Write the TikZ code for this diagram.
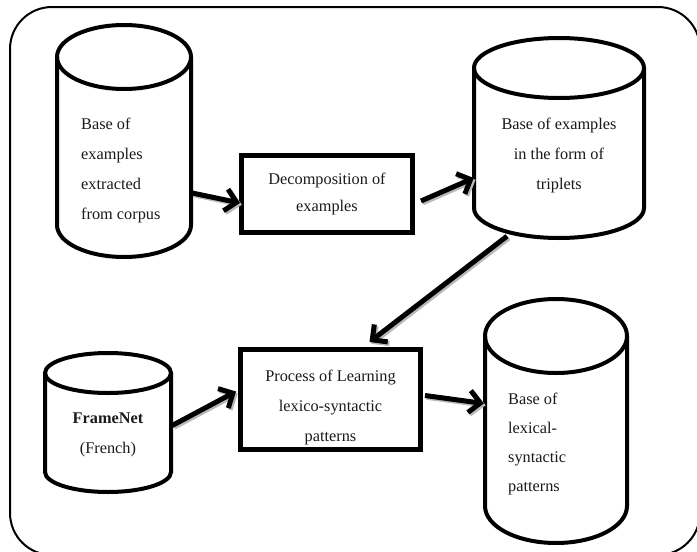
\documentclass[tikz,border=0pt]{standalone}
\usepackage{fontspec}
\setmainfont{Liberation Serif}
\usetikzlibrary{arrows.meta,calc}
\definecolor{ink}{HTML}{1A1A1A}
\newcommand\drawcylinder[5]{% cx, rx, ytop, ybottom, ry
  \draw[cylline] (#1-#2,#3) -- (#1-#2,#4) arc[start angle=180,end angle=0,x radius=#2,y radius=#5] -- (#1+#2,#3);
  \draw[cylline] (#1,#3) ellipse [x radius=#2, y radius=#5];
}
\begin{document}
\begin{tikzpicture}[x=1pt,y=-1pt,
  cylline/.style={line width=4pt, draw=black},
  procbox/.style={draw=black, line width=5pt, rectangle, inner sep=0pt},
  ghost/.style={draw=none, rectangle, inner sep=0pt},
  label/.style={text=ink, font=\fontsize{16.3}{30}\selectfont, inner sep=0pt},
  flow/.style={line width=5pt, draw=black, -{Straight Barb[length=11pt,width=22pt]},
    preaction={draw=gray!55, line width=5pt, transform canvas={shift={(1.8pt,-1.8pt)}}}},
  frame/.style={draw=black, line width=2pt, rounded corners=42pt}]
\useasboundingbox (0,0) rectangle (697,552);
\clip (0,0) rectangle (697,552);
\fill[white] (0,0) rectangle (697,552);
% outer frame
\draw[frame] (10,7) rectangle (700,555);

% cylinders
\drawcylinder{124}{67}{57}{225}{32}
\drawcylinder{559}{85}{68}{208}{30}
\drawcylinder{108}{63}{373}{472}{20}
\drawcylinder{556}{71}{336}{506}{37}

\node[ghost, minimum width=134pt, minimum height=232pt] (cyl1) at (124,141) {};
\node[ghost, minimum width=170pt, minimum height=200pt] (cyl2) at (559,138) {};
\node[ghost, minimum width=126pt, minimum height=139pt] (cyl3) at (108,422.5) {};
\node[ghost, minimum width=142pt, minimum height=245pt] (cyl4) at (556,420.5) {};

% cylinder texts
\node[label, anchor=west, align=left] (t1) at (81,170) {Base of\\examples\\extracted\\from corpus};
\node[label, align=center] (t2) at (559,155) {Base of examples\\in the form of\\triplets};
\node[label, align=center] (t3) at (108,435) {\textbf{FrameNet}\\(French)};
\node[label, anchor=west, align=left, font=\fontsize{16.3}{29.3}\selectfont] (t4) at (508,444) {Base of\\lexical-\\syntactic\\patterns};

% process boxes
\node[procbox, minimum width=171pt, minimum height=77pt] (box1) at (327,194) {};
\node[label, align=center, font=\fontsize{16.3}{27}\selectfont] (t5) at (box1) {Decomposition of\\examples};
\node[procbox, minimum width=180pt, minimum height=100pt] (box2) at (330.5,399.5) {};
\node[label, align=center] (t6) at ($(box2)+(0,8)$) {Process of Learning\\lexico-syntactic\\patterns};

% connectors
\draw[flow] ($(cyl1.east)+(1,52)$) -- ($(box1.west)+(1,9)$);
\draw[flow] ($(box1.east)+(6,7)$) -- ($(cyl2.west)+(0,40)$);
\draw[flow] ($(cyl2.south)+(-52,-2)$) -- ($(box2.north)+(39,-5)$);
\draw[flow] ($(cyl3.east)+(1,3)$) -- ($(box2.west)+(-2,-8)$);
\draw[flow] ($(box2.east)+(2,-4)$) -- ($(cyl4.west)+(-1,-17)$);
\end{tikzpicture}
\end{document}
